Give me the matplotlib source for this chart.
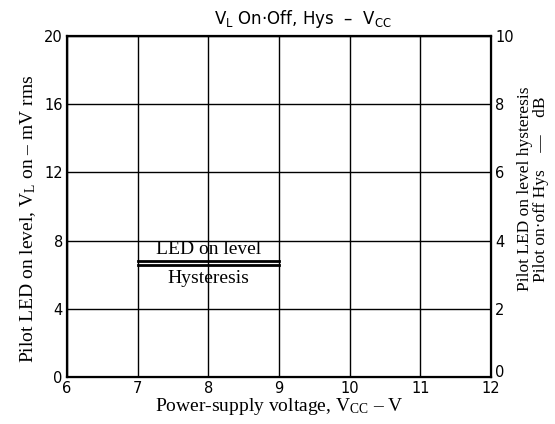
import matplotlib
matplotlib.use("Agg")
import matplotlib.pyplot as plt

plt.rcParams['mathtext.fontset'] = 'custom'
plt.rcParams['mathtext.rm'] = 'Liberation Serif'
plt.rcParams['mathtext.sf'] = 'DejaVu Sans'

vcc = [7, 9]
led_on_level = [6.8, 6.8]
hysteresis = [6.55, 6.55]
x_ticks = [6, 7, 8, 9, 10, 11, 12]
y_ticks = [0, 4, 8, 12, 16, 20]
y2_ticks = [0, 2, 4, 6, 8, 10]

fig = plt.figure(figsize=(5.55, 4.24), dpi=100)
ax = fig.add_axes([0.1207, 0.1108, 0.764, 0.8042])

ax.plot(vcc, led_on_level, color='black', lw=2)
ax.plot(vcc, hysteresis, color='black', lw=2)
ax.text(8, 6.8 + 0.2, 'LED on level', ha='center', va='bottom',
        family='Liberation Serif', fontsize=14)
ax.text(8, 6.55 - 0.3, 'Hysteresis', ha='center', va='top',
        family='Liberation Serif', fontsize=14)

ax.set_xlim(6, 12)
ax.set_ylim(0, 20)
ax.set_xticks(x_ticks)
ax.set_yticks(y_ticks)
ax.grid(True, color='black', lw=1.0)
for s in ax.spines.values():
    s.set_linewidth(1.6)
ax.tick_params(length=0, labelsize=10.5, pad=3)

ax2 = ax.twinx()
ax2.set_ylim(0, 10)
ax2.set_yticks(y2_ticks)
ax2.tick_params(length=0, labelsize=10.5, pad=3)
ax2.yaxis.get_major_ticks()[0].label2.set_verticalalignment('baseline')

fig.text(0.546, 0.955, r'$\mathsf{V_L}$ On·Off, Hys  –  $\mathsf{V_{CC}}$', fontsize=12,
         ha='center', va='center')
ax.set_xlabel(r'Power-supply voltage, $\mathrm{V_{CC}}$ – V', family='Liberation Serif',
              fontsize=14, labelpad=0)
ax.set_ylabel(r'Pilot LED on level, $\mathrm{V_L}$ on – mV rms', family='Liberation Serif',
              fontsize=14)
ax.yaxis.set_label_coords(-0.068, 0.463)
fig.text(0.960, 0.554, 'Pilot LED on level hysteresis\nPilot on·off Hys    —    dB',
         family='Liberation Serif', fontsize=12.5, rotation=90, ha='center', va='center',
         multialignment='center', linespacing=1.0)

fig.savefig('out.png', dpi=100)
